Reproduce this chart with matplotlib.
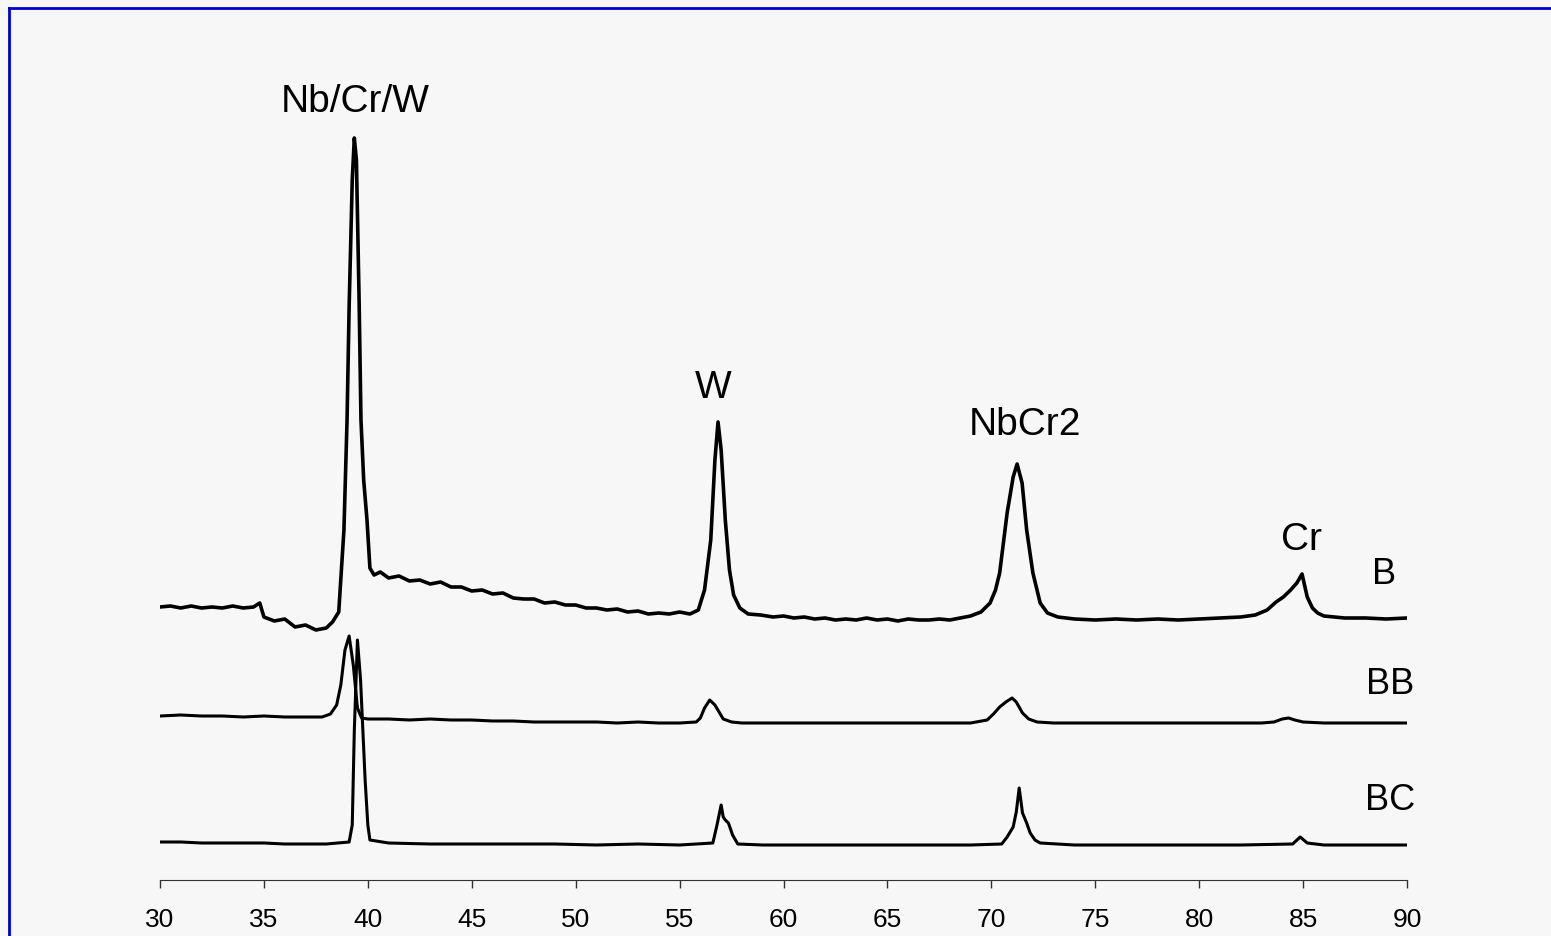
import numpy as np
from matplotlib import pyplot as plt
from matplotlib.lines import Line2D

plt.rcParams['font.family'] = ['Liberation Sans', 'DejaVu Sans']

# 2-theta positions and intensities (a.u., offsets included)
b_x = [30.0, 30.5, 31.0, 31.5, 32.0, 32.5, 33.0, 33.5, 34.0, 34.5, 34.8, 35.0, 35.5, 36.0,
       36.5, 37.0, 37.5, 38.0, 38.3, 38.6, 38.85, 39.0, 39.1, 39.25, 39.35, 39.45, 39.58,
       39.67, 39.8, 39.96, 40.1, 40.3, 40.6, 41.0, 41.5, 42.0, 42.5, 43.0, 43.5, 44.0, 44.5,
       45.0, 45.5, 46.0, 46.5, 47.0, 47.5, 48.0, 48.5, 49.0, 49.5, 50.0, 50.5, 51.0, 51.5,
       52.0, 52.5, 53.0, 53.5, 54.0, 54.5, 55.0, 55.5, 55.9, 56.2, 56.5, 56.7, 56.85, 57.0,
       57.2, 57.4, 57.6, 57.9, 58.3, 58.9, 59.5, 60.0, 60.5, 61.0, 61.5, 62.0, 62.5, 63.0,
       63.5, 64.0, 64.5, 65.0, 65.5, 66.0, 66.5, 67.0, 67.5, 68.0, 68.5, 69.0, 69.5, 69.94,
       70.2, 70.4, 70.6, 70.76, 71.05, 71.24, 71.48, 71.7, 72.0, 72.35, 72.7, 73.2, 74.0,
       75.0, 76.0, 77.0, 78.0, 79.0, 80.0, 81.0, 82.0, 82.7, 83.27, 83.7, 84.05, 84.4, 84.7,
       84.95, 85.2, 85.45, 85.7, 86.0, 87.0, 88.0, 89.0, 90.0]
b_y = [273, 274, 272, 274, 272, 273, 272, 274, 272, 273, 277, 263, 259, 261, 253, 255, 250,
       252, 258, 268, 350, 460, 573, 700, 742, 720, 580, 460, 400, 360, 312, 305, 308, 302,
       304, 299, 300, 296, 298, 293, 293, 289, 290, 286, 287, 282, 281, 281, 277, 278, 275,
       275, 272, 272, 270, 271, 268, 269, 266, 267, 266, 268, 266, 270, 290, 340, 420, 458,
       430, 360, 310, 285, 272, 266, 265, 263, 264, 262, 263, 261, 262, 260, 261, 260, 262,
       260, 261, 259, 261, 260, 260, 261, 260, 262, 264, 268, 277, 290, 307, 340, 367, 403,
       416, 397, 350, 307, 277, 267, 263, 261, 260, 261, 260, 261, 260, 261, 262, 263, 265,
       270, 278, 283, 290, 297, 306, 283, 272, 267, 264, 262, 262, 261, 262]

bb_x = [30.0, 31.0, 32.0, 33.0, 34.0, 35.0, 36.0, 37.0, 37.8, 38.2, 38.5, 38.7, 38.9, 39.1,
        39.3, 39.5, 39.7, 40.0, 41.0, 42.0, 43.0, 44.0, 45.0, 46.0, 47.0, 48.0, 49.0, 50.0,
        51.0, 52.0, 53.0, 54.0, 55.0, 55.8, 56.0, 56.2, 56.45, 56.7, 56.9, 57.1, 57.5, 58.0,
        60.0, 62.0, 64.0, 66.0, 68.0, 69.0, 69.8, 70.1, 70.4, 70.7, 71.0, 71.2, 71.5, 71.8,
        72.2, 73.0, 75.0, 77.0, 79.0, 81.0, 83.0, 83.6, 84.0, 84.3, 84.6, 85.0, 86.0, 88.0,
        90.0]
bb_y = [164, 165, 164, 164, 163, 164, 163, 163, 163, 166, 175, 195, 230, 244, 215, 172, 162,
        161, 161, 160, 161, 160, 160, 159, 159, 158, 158, 158, 158, 157, 158, 157, 157, 158,
        162, 172, 180, 175, 168, 161, 158, 157, 157, 157, 157, 157, 157, 157, 160, 166, 173,
        178, 182, 178, 167, 161, 158, 157, 157, 157, 157, 157, 157, 158, 161, 162, 160, 158,
        157, 157, 157]

bc_x = [30.0, 31.0, 32.0, 33.0, 34.0, 35.0, 36.0, 37.0, 38.0, 39.1, 39.25, 39.35, 39.5,
        39.65, 39.87, 40.0, 40.1, 41.0, 43.0, 45.0, 47.0, 49.0, 51.0, 53.0, 55.0, 56.6, 56.8,
        57.0, 57.1, 57.2, 57.35, 57.55, 57.8, 59.0, 61.0, 63.0, 65.0, 67.0, 69.0, 70.5, 70.76,
        71.05, 71.2, 71.34, 71.5, 71.7, 71.87, 72.1, 72.35, 74.0, 76.0, 78.0, 80.0, 82.0,
        84.5, 84.86, 85.2, 86.0, 88.0, 90.0]
bc_y = [38, 38, 37, 37, 37, 37, 36, 36, 36, 38, 55, 150, 240, 200, 100, 55, 40, 37, 36, 36,
        36, 36, 35, 36, 35, 37, 55, 75, 63, 60, 57, 45, 36, 35, 35, 35, 35, 35, 35, 36, 43,
        53, 68, 92, 67, 57, 47, 40, 37, 35, 35, 35, 35, 35, 36, 43, 37, 35, 35, 35]

x_ticks = [30, 35, 40, 45, 50, 55, 60, 65, 70, 75, 80, 85, 90]

W, H = 1551, 936
fig = plt.figure(figsize=(W / 100, H / 100), dpi=100, facecolor='#f7f7f7')
ax = fig.add_axes([160 / W, 56 / H, 1247 / W, 840 / H])
ax.set_facecolor('#f7f7f7')

ax.plot(b_x, b_y, color='black', linewidth=2.6)
ax.plot(bb_x, bb_y, color='black', linewidth=2.2)
ax.plot(bc_x, bc_y, color='black', linewidth=2.2)

ax.set_xlim(30, 90)
ax.set_ylim(0, 840)
ax.set_xticks(x_ticks)
ax.set_yticks([])
for s in ['left', 'right', 'top']:
    ax.spines[s].set_visible(False)
ax.spines['bottom'].set_color('#333333')
ax.tick_params(axis='x', direction='out', length=6, width=1, color='#333333',
               labelsize=19, pad=14)

# peak and sample labels
ax.text(39.4, 778, 'Nb/Cr/W', fontsize=28, ha='center', va='center')
ax.text(56.6, 492, 'W', fontsize=28, ha='center', va='center')
ax.text(71.6, 455, 'NbCr2', fontsize=28, ha='center', va='center')
ax.text(84.9, 340, 'Cr', fontsize=28, ha='center', va='center')
ax.text(88.9, 305, 'B', fontsize=26, ha='center', va='center')
ax.text(89.2, 195, 'BB', fontsize=26, ha='center', va='center')
ax.text(89.2, 80, 'BC', fontsize=26, ha='center', va='center')

# blue frame round the chart
fig.add_artist(Line2D([9 / W, 9 / W], [0, 1 - 8 / H], color='#0000cc', linewidth=2,
                      transform=fig.transFigure))
fig.add_artist(Line2D([9 / W, 1], [1 - 8 / H, 1 - 8 / H], color='#0000cc', linewidth=2,
                      transform=fig.transFigure))

fig.savefig('out.png', dpi=100, facecolor=fig.get_facecolor())
